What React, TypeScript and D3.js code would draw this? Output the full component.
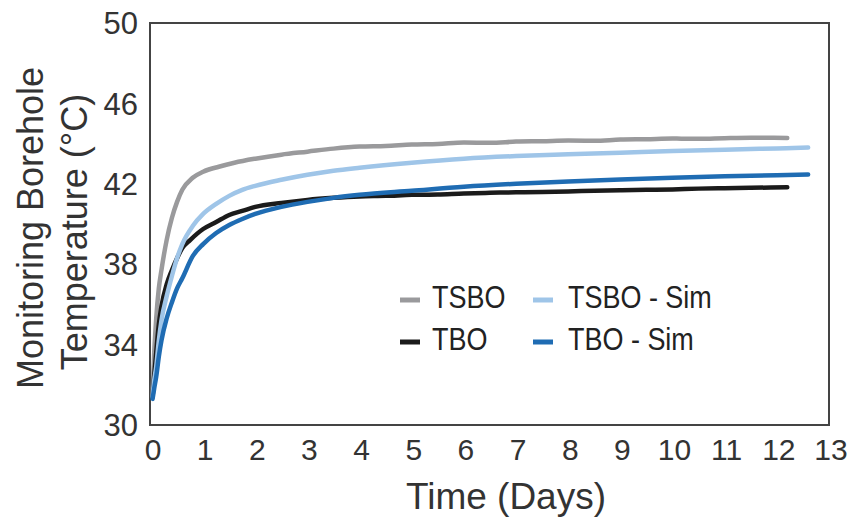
import React from "react";
import * as d3 from "d3";

// Time (days) and temperature (°C) for each series
const tsboDays = [0.03, 0.06, 0.1, 0.15, 0.2, 0.3, 0.4, 0.5, 0.6, 0.8, 1.0, 1.3, 1.6, 2.0, 2.5, 3.0, 3.5, 4.0, 4.5, 5.0, 5.5, 6.0, 6.5, 7.0, 7.5, 8.0, 8.5, 9.0, 9.5, 10.0, 10.5, 11.0, 11.5, 12.2];
const tsboTemps = [31.5, 33.5, 35.3, 36.8, 37.7, 39.2, 40.3, 41.1, 41.7, 42.3, 42.6, 42.85, 43.05, 43.25, 43.45, 43.6, 43.75, 43.85, 43.88, 43.95, 43.98, 44.05, 44.04, 44.1, 44.12, 44.15, 44.14, 44.2, 44.22, 44.25, 44.24, 44.27, 44.29, 44.28];

const tboDays = [0.03, 0.06, 0.1, 0.15, 0.2, 0.3, 0.4, 0.5, 0.6, 0.75, 1.0, 1.25, 1.5, 1.75, 2.0, 2.5, 3.0, 3.5, 4.0, 4.5, 5.0, 5.5, 6.0, 6.5, 7.0, 7.5, 8.0, 8.5, 9.0, 9.5, 10.0, 10.5, 11.0, 11.5, 12.2];
const tboTemps = [31.4, 32.4, 33.6, 35.0, 35.9, 37.0, 37.7, 38.3, 38.8, 39.2, 39.75, 40.1, 40.45, 40.65, 40.85, 41.05, 41.2, 41.3, 41.37, 41.4, 41.45, 41.47, 41.52, 41.55, 41.58, 41.59, 41.62, 41.66, 41.68, 41.7, 41.72, 41.76, 41.78, 41.8, 41.83];

const simDays = [0.03, 0.06, 0.1, 0.15, 0.2, 0.3, 0.4, 0.5, 0.6, 0.8, 1.0, 1.25, 1.5, 1.75, 2.0, 2.5, 3.0, 3.5, 4.0, 5.0, 6.0, 7.0, 8.0, 9.0, 10.0, 11.0, 12.0, 12.6];
const tsboSimTemps = [31.4, 32.2, 32.9, 34.2, 35.2, 36.4, 37.4, 38.3, 39.0, 39.9, 40.5, 41.0, 41.4, 41.7, 41.9, 42.2, 42.45, 42.65, 42.8, 43.05, 43.25, 43.38, 43.47, 43.55, 43.63, 43.7, 43.76, 43.8];
const tboSimTemps = [31.3, 31.8, 32.4, 33.4, 34.2, 35.3, 36.1, 36.8, 37.3, 38.4, 39.0, 39.55, 39.95, 40.25, 40.5, 40.85, 41.1, 41.3, 41.45, 41.65, 41.85, 42.0, 42.12, 42.22, 42.3, 42.37, 42.43, 42.46];

const xTicks = d3.range(0, 14);
const yTicks = [30, 34, 38, 42, 46, 50];

const legendLabels = ["TSBO", "TSBO - Sim", "TBO", "TBO - Sim"];
const seriesColors = ["#9a9a9c", "#9fc5e8", "#1b1b1b", "#1f6cb3"];

const W = 867;
const H = 522;
const left = 150;
const right = 829;
const top = 23;
const bottom = 425;

export default function App() {
  const x = d3.scaleLinear().domain([0, 13]).range([left + 1, right]);
  const y = d3.scaleLinear().domain([30, 50]).range([bottom, top]);

  const line = d3
    .line<[number, number]>()
    .x((d) => x(d[0]))
    .y((d) => y(d[1]))
    .curve(d3.curveMonotoneX);

  const zip = (a: number[], b: number[]) => a.map((v, i) => [v, b[i]] as [number, number]);

  // draw order: measured first, simulated on top
  const series = [
    { pts: zip(tsboDays, tsboTemps), color: seriesColors[0] },
    { pts: zip(tboDays, tboTemps), color: seriesColors[2] },
    { pts: zip(simDays, tsboSimTemps), color: seriesColors[1] },
    { pts: zip(simDays, tboSimTemps), color: seriesColors[3] },
  ];

  const font = "Liberation Sans, Arial, sans-serif";
  const legendPos = [
    { mx: 400, ty: 308, tx: 432 },
    { mx: 533, ty: 308, tx: 568 },
    { mx: 400, ty: 350, tx: 432 },
    { mx: 533, ty: 350, tx: 568 },
  ];

  return (
    <svg
      width={W}
      height={H}
      style={{ position: "absolute", left: 0, top: 0, background: "#fff" }}
      fontFamily={font}
    >
      <rect x={0} y={0} width={W} height={H} fill="#fff" />
      <rect
        x={left}
        y={top}
        width={right - left}
        height={bottom - top}
        fill="none"
        stroke="#444"
        strokeWidth={2}
      />
      {series.map((s, i) => (
        <path
          key={i}
          d={line(s.pts) || ""}
          fill="none"
          stroke={s.color}
          strokeWidth={4.5}
          strokeLinejoin="round"
          strokeLinecap="round"
        />
      ))}

      {yTicks.map((t) => (
        <text
          key={t}
          x={138}
          y={y(t)}
          dy="0.36em"
          textAnchor="end"
          fontSize={31}
          fill="#333"
        >
          {t}
        </text>
      ))}
      {xTicks.map((t) => (
        <text
          key={t}
          x={x(t) + 2}
          y={460}
          textAnchor="middle"
          fontSize={30}
          fill="#333"
        >
          {t}
        </text>
      ))}

      <text x={506} y={509} textAnchor="middle" fontSize={37} fill="#333">
        Time (Days)
      </text>
      <g transform="translate(43,228) rotate(-90)">
        <text x={0} y={0} textAnchor="middle" fontSize={36} fill="#333">
          Monitoring Borehole
        </text>
      </g>
      <g transform="translate(87,232) rotate(-90)">
        <text x={0} y={0} textAnchor="middle" fontSize={36} fill="#333">
          Temperature (°C)
        </text>
      </g>

      {legendLabels.map((lab, i) => {
        const p = legendPos[i];
        return (
          <g key={lab}>
            <line
              x1={p.mx}
              x2={p.mx + 20}
              y1={p.ty - 8}
              y2={p.ty - 8}
              stroke={seriesColors[i]}
              strokeWidth={5}
            />
            <g transform={`translate(${p.tx},${p.ty}) scale(0.87,1)`}>
              <text x={0} y={0} fontSize={31} fill="#222">
                {lab}
              </text>
            </g>
          </g>
        );
      })}
    </svg>
  );
}
